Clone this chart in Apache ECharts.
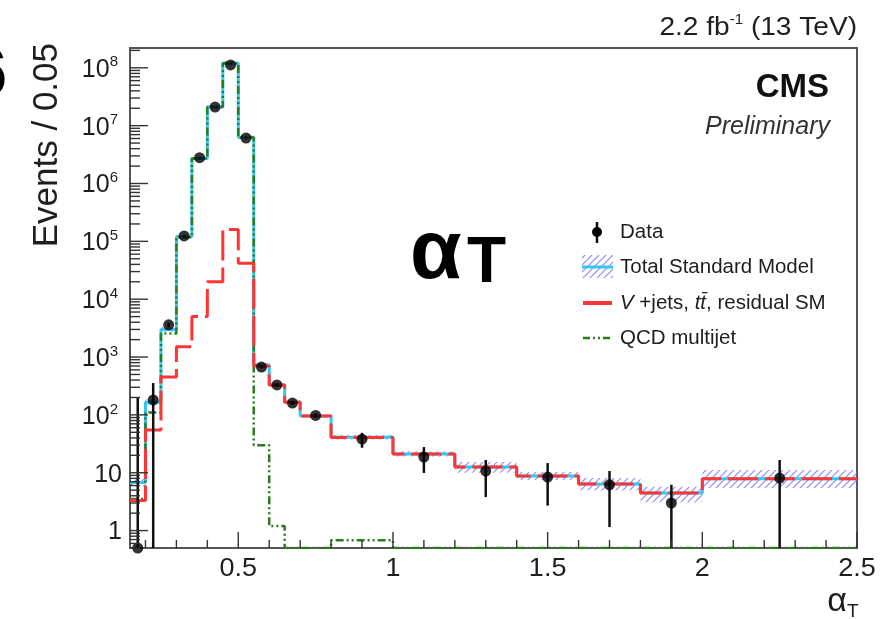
<!DOCTYPE html>
<html>
<head>
<meta charset="utf-8">
<script src="https://cdn.jsdelivr.net/npm/echarts@6/dist/echarts.min.js"></script>
<style>
html, body { margin: 0; padding: 0; background: #ffffff; }
#chart { width: 886px; height: 619px; }
</style>
</head>
<body>
<div id="chart"></div>
<script>
// ---- alpha_T histogram: bin edges and per-bin contents ----
const binEdges = [0.15, 0.2, 0.25, 0.3, 0.35, 0.4, 0.45, 0.5, 0.55, 0.6, 0.65, 0.7, 0.8, 1.0, 1.2, 1.4, 1.6, 1.8, 2.0, 2.5];

// Total Standard Model expectation and its uncertainty band
const totalSM   = [6.8, 166, 3000, 1.2e5, 2.7e6, 2.1e7, 1.2e8, 6.3e6, 730, 330, 166, 96, 41, 21, 12.6, 8.8, 6.4, 4.45, 7.9];
const totalLow  = [5.8, 150, 2750, 1.1e5, 2.5e6, 1.95e7, 1.1e8, 5.8e6, 680, 310, 155, 89, 37.5, 19, 10, 7.5, 5.0, 3.1, 5.45];
const totalHigh = [8.0, 185, 3300, 1.3e5, 2.9e6, 2.25e7, 1.3e8, 6.8e6, 780, 350, 178, 103, 45, 23.5, 15.4, 10.3, 8.1, 5.7, 11.1];

// V+jets, ttbar, residual SM
const vjetsTT = [3.3, 55, 450, 1500, 5000, 2.0e4, 1.6e5, 4.2e4, 700, 328, 166, 96, 40.5, 21, 12.6, 8.8, 6.4, 4.45, 7.9];

// QCD multijet (0.5 = axis floor, i.e. empty bin)
const qcdMultijet = [3.5, 110, 2550, 1.18e5, 2.7e6, 2.1e7, 1.2e8, 6.25e6, 30, 1.2, 0.5, 0.5, 0.68, 0.5, 0.5, 0.5, 0.5, 0.5, 0.5];

// Data points with error bar ends
const dataX  = [0.175, 0.225, 0.275, 0.325, 0.375, 0.425, 0.475, 0.525, 0.575, 0.625, 0.675, 0.75, 0.9, 1.1, 1.3, 1.5, 1.7, 1.9, 2.25];
const dataY  = [0.5, 181, 3600, 1.24e5, 2.8e6, 2.1e7, 1.12e8, 6.1e6, 670, 330, 160, 98, 38, 18.7, 10.7, 8.4, 6.2, 3.0, 8.1];
const dataLo = [0.5, 0.5, 3300, 1.2e5, 2.75e6, 2.08e7, 1.11e8, 6.0e6, 640, 310, 148, 90, 27, 9.9, 3.8, 2.7, 1.15, 0.5, 0.5];
const dataHi = [204, 355, 3900, 1.28e5, 2.85e6, 2.12e7, 1.13e8, 6.2e6, 700, 350, 172, 106, 49, 27.8, 16.6, 14.7, 10.7, 6.2, 16.6];

// Axis ranges and tick labels
const xRange = [0.15, 2.5];
const yRange = [0.5, 2.2e8];
const xTickValues = [0.5, 1, 1.5, 2, 2.5];
const xTickLabels = ['0.5', '1', '1.5', '2', '2.5'];
const yTickValues = [1, 10, 1e2, 1e3, 1e4, 1e5, 1e6, 1e7, 1e8];
const yTickLabels = ['1', '10', '10{s|2}', '10{s|3}', '10{s|4}', '10{s|5}', '10{s|6}', '10{s|7}', '10{s|8}'];

const FONT = '"Liberation Sans", Arial, Helvetica, sans-serif';
const TXT = '#1e1e1e';
const CYAN = '#36c6f2';
const RED = '#ff3434';
const GREEN = '#2d7a1f';

// step-line points for a histogram
function stepPoints(values) {
  const pts = values.map((v, i) => [binEdges[i], v]);
  pts.push([binEdges[binEdges.length - 1], values[values.length - 1]]);
  return pts;
}

// diagonal hatch used for the uncertainty band
function makeHatch() {
  const c = document.createElement('canvas');
  c.width = 7; c.height = 7;
  const g = c.getContext('2d');
  g.strokeStyle = 'rgba(100,100,255,0.75)';
  g.lineWidth = 1.2;
  g.beginPath();
  g.moveTo(0, 7); g.lineTo(7, 0);
  g.moveTo(-1, 1); g.lineTo(1, -1);
  g.moveTo(6, 8); g.lineTo(8, 6);
  g.stroke();
  return c;
}
const hatch = makeHatch();

// tick items: [x, y, isMajor, labelIndex]
const yTickData = [];
for (let e = -1; e <= 8; e++) {
  for (let m = 1; m <= 9; m++) {
    const v = m * Math.pow(10, e);
    if (v < yRange[0] || v > yRange[1]) continue;
    const idx = yTickValues.indexOf(v);
    yTickData.push([xRange[0], v, m === 1 ? 1 : 0, idx]);
  }
}
const xTickData = [];
for (let k = 2; k <= 25; k++) {
  const v = k / 10;
  const idx = xTickValues.findIndex(t => Math.abs(t - v) < 1e-9);
  xTickData.push([v, yRange[0], idx >= 0 ? 1 : 0, idx]);
}

const bandData = totalSM.map((v, i) => [binEdges[i], binEdges[i + 1], totalLow[i], totalHigh[i]]);
const errData = dataX.map((x, i) => [x, dataLo[i], dataHi[i]]);
const pointData = dataX.map((x, i) => [x, dataY[i]]);

const chart = echarts.init(document.getElementById('chart'), null, { renderer: 'canvas' });

const LEG = 20.5;

const option = {
  animation: false,
  backgroundColor: '#ffffff',
  grid: { left: 130, top: 48, right: 29, bottom: 71, show: true, borderColor: '#555', borderWidth: 2, backgroundColor: 'transparent' },
  xAxis: { type: 'value', min: xRange[0], max: xRange[1], show: false },
  yAxis: { type: 'log', logBase: 10, min: yRange[0], max: yRange[1], show: false },
  series: [
    {
      // uncertainty band of the total SM expectation
      type: 'custom', name: 'band', silent: true, z: 1,
      data: bandData,
      renderItem(params, api) {
        const p0 = api.coord([api.value(0), api.value(3)]);
        const p1 = api.coord([api.value(1), api.value(2)]);
        const cs = params.coordSys;
        const x0 = Math.max(p0[0], cs.x), x1 = Math.min(p1[0], cs.x + cs.width);
        const y0 = Math.max(p0[1], cs.y), y1 = Math.min(p1[1], cs.y + cs.height);
        if (x1 <= x0 || y1 <= y0) return null;
        return { type: 'rect', shape: { x: x0, y: y0, width: x1 - x0, height: y1 - y0 },
                 style: { fill: { image: hatch, repeat: 'repeat' } } };
      }
    },
    {
      type: 'line', name: 'Total Standard Model', step: 'end', symbol: 'none', z: 2, silent: true,
      data: stepPoints(totalSM),
      lineStyle: { color: CYAN, width: 3 }
    },
    {
      type: 'line', name: 'QCD multijet', step: 'end', symbol: 'none', z: 3, silent: true,
      data: stepPoints(qcdMultijet),
      lineStyle: { color: GREEN, width: 2.5, type: [8, 3, 2, 3, 2, 3] }
    },
    {
      type: 'line', name: 'V+jets', step: 'end', symbol: 'none', z: 4, silent: true,
      data: stepPoints(vjetsTT),
      lineStyle: { color: RED, width: 3, type: [30, 7] }
    },
    {
      // data error bars
      type: 'custom', name: 'errors', silent: true, z: 5, clip: true,
      data: errData,
      renderItem(params, api) {
        const a = api.coord([api.value(0), api.value(1)]);
        const b = api.coord([api.value(0), api.value(2)]);
        const cs = params.coordSys;
        const yb = Math.min(a[1], cs.y + cs.height);
        return { type: 'line', shape: { x1: a[0], y1: yb, x2: b[0], y2: b[1] },
                 style: { stroke: '#111', lineWidth: 2.5 } };
      }
    },
    {
      type: 'scatter', name: 'Data', z: 6, silent: true, clip: false,
      data: pointData, symbol: 'circle', symbolSize: 11,
      itemStyle: { color: '#000' }
    },
    {
      // y axis ticks and labels
      type: 'custom', name: 'yticks', silent: true, z: 7, clip: false,
      data: yTickData,
      renderItem(params, api) {
        const p = api.coord([api.value(0), api.value(1)]);
        const major = api.value(2) === 1;
        const len = major ? 18 : 10;
        const children = [{ type: 'line', shape: { x1: p[0], y1: p[1], x2: p[0] + len, y2: p[1] },
                            style: { stroke: '#333', lineWidth: 1.4 } }];
        const idx = api.value(3);
        if (major && idx >= 0) {
          const hasExp = yTickLabels[idx].indexOf('{') >= 0;
          children.push({ type: 'text', x: p[0] - (hasExp ? 12 : 8), y: p[1] + 2,
            style: { text: yTickLabels[idx], align: 'right', verticalAlign: 'middle',
                     fontSize: 25, fontFamily: FONT, fill: TXT, lineHeight: 30,
                     rich: { s: { fontSize: 15, fontFamily: FONT, fill: TXT, verticalAlign: 'top', lineHeight: 30 } } } });
        }
        return { type: 'group', children };
      }
    },
    {
      // x axis ticks and labels
      type: 'custom', name: 'xticks', silent: true, z: 7, clip: false,
      data: xTickData,
      renderItem(params, api) {
        const p = api.coord([api.value(0), api.value(1)]);
        const major = api.value(2) === 1;
        const len = major ? 16 : 8;
        const children = [{ type: 'line', shape: { x1: p[0], y1: p[1], x2: p[0], y2: p[1] - len },
                            style: { stroke: '#333', lineWidth: 1.4 } }];
        const idx = api.value(3);
        if (major && idx >= 0) {
          children.push({ type: 'text', x: p[0], y: p[1] + 21, scaleX: 1.08,
            style: { text: xTickLabels[idx], align: 'center', verticalAlign: 'middle',
                     fontSize: 25, fontFamily: FONT, fill: TXT } });
        }
        return { type: 'group', children };
      }
    }
  ],
  graphic: [
    // y axis title
    { type: 'text', x: 47, y: 43, rotation: Math.PI / 2,
      style: { text: 'Events / 0.05', align: 'right', verticalAlign: 'middle', fontSize: 35, fontFamily: FONT, fill: TXT } },
    // x axis title
    { type: 'text', x: 847, y: 602,
      style: { text: 'α', align: 'right', verticalAlign: 'middle', fontSize: 34, fontFamily: FONT, fill: TXT } },
    { type: 'text', x: 847, y: 612,
      style: { text: 'T', align: 'left', verticalAlign: 'middle', fontSize: 19, fontFamily: FONT, fill: TXT } },
    // luminosity / energy
    { type: 'text', x: 857, y: 28, scaleX: 1.08,
      style: { text: '2.2 fb{s|-1} (13 TeV)', align: 'right', verticalAlign: 'middle', fontSize: 26, fontFamily: FONT, fill: TXT, lineHeight: 30,
               rich: { s: { fontSize: 14, fontFamily: FONT, fill: TXT, verticalAlign: 'top', lineHeight: 30 } } } },
    { type: 'text', x: 829, y: 88,
      style: { text: 'CMS', align: 'right', verticalAlign: 'middle', fontSize: 33, fontWeight: 'bold', fontFamily: FONT, fill: '#111' } },
    { type: 'text', x: 830, y: 127,
      style: { text: 'Preliminary', align: 'right', verticalAlign: 'middle', fontSize: 25, fontStyle: 'italic', fontFamily: FONT, fill: '#333' } },
    // big variable name
    { type: 'text', x: 410, y: 255,
      style: { text: 'α', align: 'left', verticalAlign: 'middle', fontSize: 84, fontWeight: 'bold', fontFamily: FONT, fill: '#000' } },
    { type: 'text', x: 467, y: 264,
      style: { text: 'T', align: 'left', verticalAlign: 'middle', fontSize: 64, fontWeight: 'bold', fontFamily: FONT, fill: '#000' } },
    // edge of neighbouring slide text
    { type: 'text', x: 7, y: 76,
      style: { text: '6', align: 'right', verticalAlign: 'middle', fontSize: 68, fontWeight: 'bold', fontFamily: FONT, fill: '#000' } },
    // legend: Data
    { type: 'line', shape: { x1: 597, y1: 222, x2: 597, y2: 243 }, style: { stroke: '#111', lineWidth: 2.5 } },
    { type: 'circle', shape: { cx: 597, cy: 232, r: 5 }, style: { fill: '#000' } },
    { type: 'text', x: 620, y: 232, style: { text: 'Data', align: 'left', verticalAlign: 'middle', fontSize: LEG, fontFamily: FONT, fill: TXT } },
    // legend: Total SM
    { type: 'rect', shape: { x: 582, y: 255, width: 31, height: 23 }, style: { fill: { image: hatch, repeat: 'repeat' } } },
    { type: 'line', shape: { x1: 582, y1: 267, x2: 613, y2: 267 }, style: { stroke: CYAN, lineWidth: 3 } },
    { type: 'text', x: 620, y: 267, style: { text: 'Total Standard Model', align: 'left', verticalAlign: 'middle', fontSize: LEG, fontFamily: FONT, fill: TXT } },
    // legend: V+jets
    { type: 'line', shape: { x1: 583, y1: 303, x2: 612, y2: 303 }, style: { stroke: RED, lineWidth: 4 } },
    { type: 'text', x: 620, y: 303, style: { text: '{i|V} +jets, {i|tt̄}, residual SM', align: 'left', verticalAlign: 'middle', fontSize: LEG, fontFamily: FONT, fill: TXT,
      rich: { i: { fontStyle: 'italic', fontSize: LEG, fontFamily: FONT, fill: TXT } } } },
    // legend: QCD
    { type: 'line', shape: { x1: 583, y1: 338, x2: 612, y2: 338 }, style: { stroke: GREEN, lineWidth: 2.5, lineDash: [7, 3, 2, 3, 2, 3] } },
    { type: 'text', x: 620, y: 338, style: { text: 'QCD multijet', align: 'left', verticalAlign: 'middle', fontSize: LEG, fontFamily: FONT, fill: TXT } }
  ]
};

chart.setOption(option);
</script>
</body>
</html>
